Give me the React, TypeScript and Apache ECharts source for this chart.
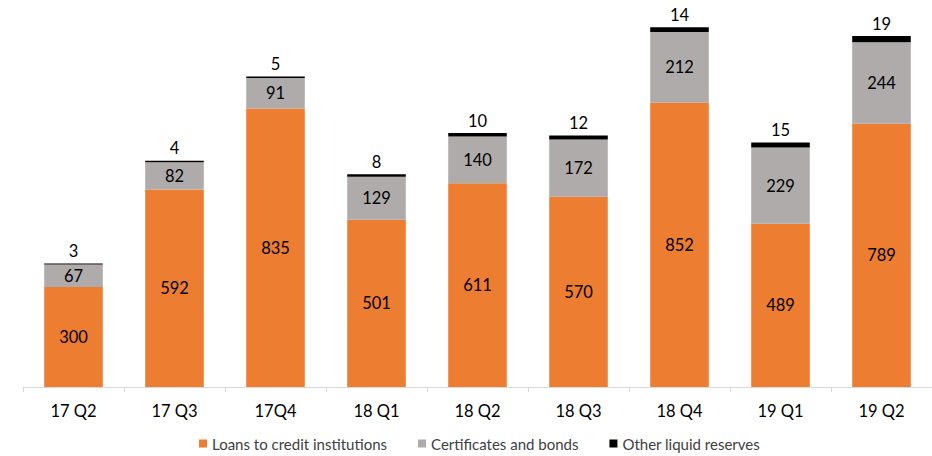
import React, { useEffect, useRef } from "react";
import * as echarts from "echarts";

const categories = ["17 Q2", "17 Q3", "17Q4", "18 Q1", "18 Q2", "18 Q3", "18 Q4", "19 Q1", "19 Q2"];
const loans = [300, 592, 835, 501, 611, 570, 852, 489, 789];
const certificates = [67, 82, 91, 129, 140, 172, 212, 229, 244];
const otherReserves = [3, 4, 5, 8, 10, 12, 14, 15, 19];

const FONT = "Lato";

export default function App() {
  const ref = useRef<HTMLDivElement>(null);
  useEffect(() => {
    document.body.style.margin = "0";
    if (!ref.current) return;
    const chart = echarts.init(ref.current, null, { renderer: "svg" });
    const insideLabel = {
      show: true,
      position: "inside" as const,
      color: "#000000",
      fontSize: 16.5,
      fontFamily: FONT,
    };
    chart.setOption({
      animation: false,
      textStyle: { fontFamily: FONT },
      grid: { left: 23, right: 0, top: 20, bottom: 69, containLabel: false },
      legend: {
        bottom: 0,
        left: 194,
        itemWidth: 8,
        itemHeight: 8,
        itemGap: 31,
        icon: "rect",
        textStyle: { color: "#404040", fontSize: 15, fontFamily: FONT },
        data: ["Loans to credit institutions", "Certificates and bonds", "Other liquid reserves"],
      },
      xAxis: {
        type: "category",
        data: categories,
        axisLine: { lineStyle: { color: "#D9D9D9", width: 1 } },
        axisTick: { show: true, length: 5, lineStyle: { color: "#D9D9D9" } },
        axisLabel: { color: "#000000", fontSize: 16.5, fontFamily: FONT, margin: 15 },
      },
      yAxis: {
        type: "value",
        min: 0,
        max: 1100,
        show: false,
        splitLine: { show: false },
      },
      series: [
        {
          name: "Loans to credit institutions",
          type: "bar",
          stack: "total",
          barWidth: "58%",
          data: loans,
          itemStyle: { color: "#ED7D31" },
          label: insideLabel,
        },
        {
          name: "Certificates and bonds",
          type: "bar",
          stack: "total",
          data: certificates,
          itemStyle: { color: "#AFABAB" },
          label: insideLabel,
        },
        {
          name: "Other liquid reserves",
          type: "bar",
          stack: "total",
          data: otherReserves,
          itemStyle: { color: "#000000" },
          label: {
            show: true,
            position: "top",
            distance: 4,
            color: "#000000",
            fontSize: 16.5,
            fontFamily: FONT,
          },
        },
      ],
    });
    return () => chart.dispose();
  }, []);
  return <div ref={ref} style={{ width: 932, height: 456 }} />;
}
